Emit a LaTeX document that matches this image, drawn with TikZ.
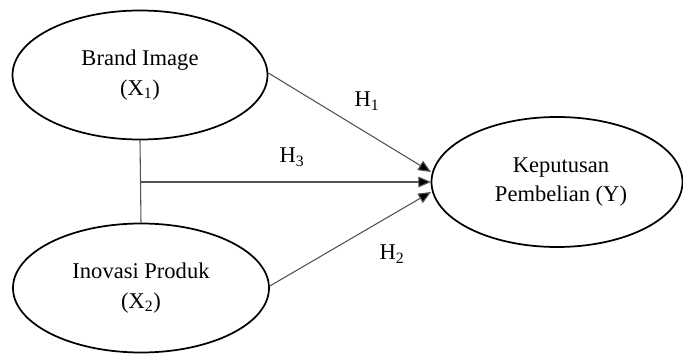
\documentclass[tikz,border=0pt]{standalone}
\usepackage{fontspec}
\setmainfont{Liberation Serif}
\usetikzlibrary{shapes.geometric,arrows.meta}
\begin{document}
\begin{tikzpicture}[x=0.75pt,y=-0.75pt,
  var/.style={draw=black,line width=1.3pt,ellipse,inner sep=0pt,align=center,
    font=\fontsize{16.9pt}{22pt}\selectfont},
  conn/.style={draw=black!68,line width=0.8pt},
  arr/.style={conn,-{Triangle[length=9.5pt,width=8pt,fill=black]}},
  lbl/.style={font=\fontsize{16.9pt}{20pt}\selectfont}]
\useasboundingbox (0,0) rectangle (683,356);
\node[var,minimum width=255*0.75pt,minimum height=129*0.75pt] (b) at (140,75) {Brand Image\\(X\textsubscript{1})};
\node[var,minimum width=256*0.75pt,minimum height=129*0.75pt] (i) at (141,288) {Inovasi Produk\\(X\textsubscript{2})};
\node[var,minimum width=251*0.75pt,minimum height=130*0.75pt] (k) at (557,182) {\hspace*{6pt}Keputusan\\\hspace*{6pt}Pembelian (Y)};
\coordinate (t1) at (431,172);
\coordinate (t3) at (431,182);
\coordinate (t2) at (431,192);
\coordinate (j) at (141,182);
\draw[conn] (b.south) -- (i.north);
\draw[arr] ([yshift=1.5pt]b.east) -- (t1);
\draw[arr] (j) -- (t3);
\draw[arr] ([yshift=1.5pt]i.east) -- (t2);
\node[lbl] (h1) at (367,101) {H\textsubscript{1}};
\node[lbl] (h3) at (292,157) {H\textsubscript{3}};
\node[lbl] (h2) at (392,254) {H\textsubscript{2}};
\end{tikzpicture}
\end{document}
